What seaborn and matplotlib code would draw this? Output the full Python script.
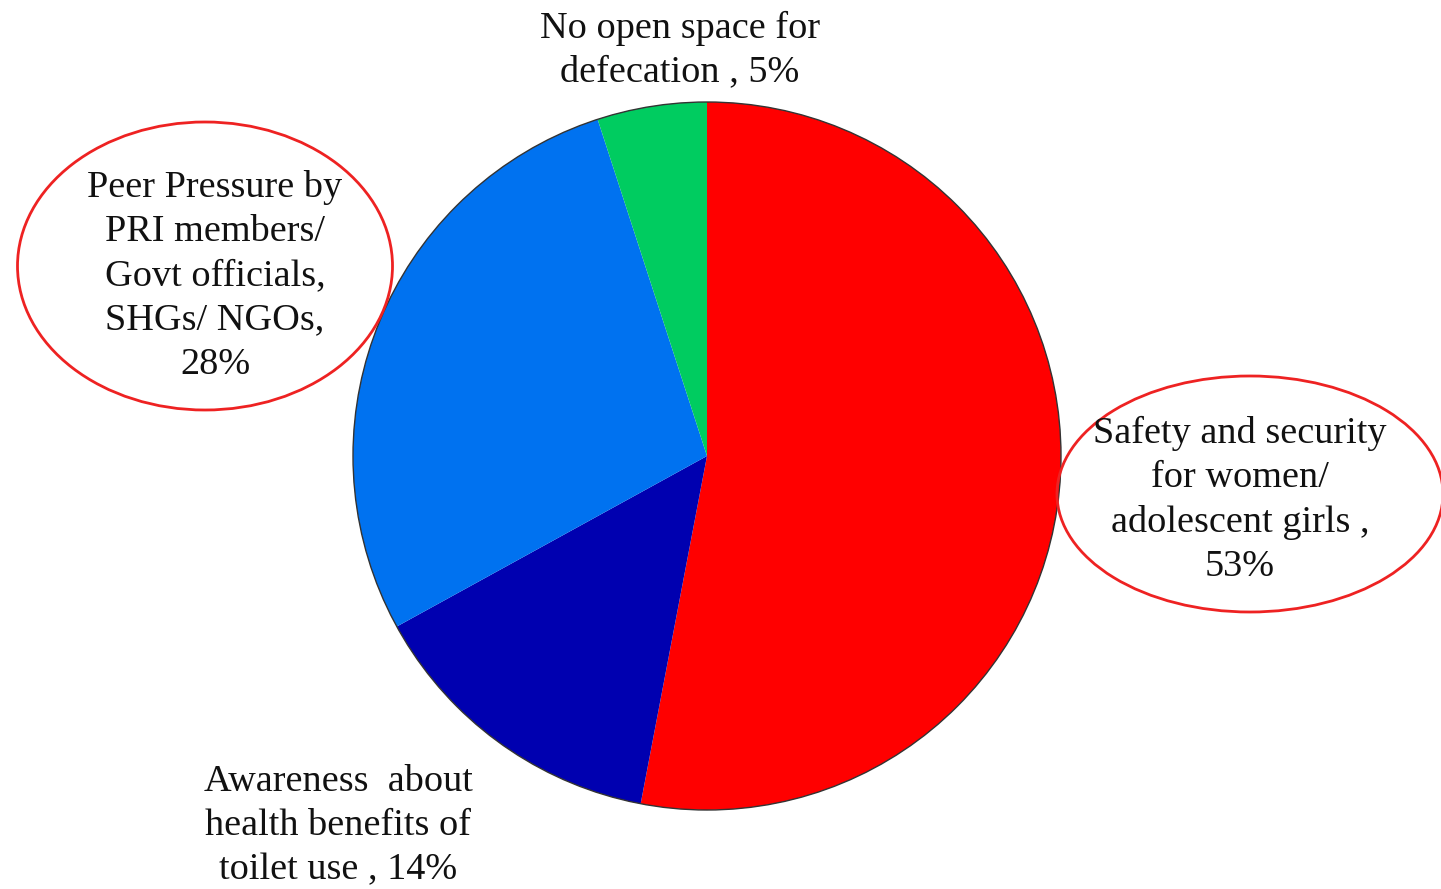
import matplotlib
matplotlib.use("Agg")
import matplotlib.pyplot as plt
from matplotlib.patches import Ellipse
import seaborn as sns

categories = [
    "Safety and security\nfor women/\nadolescent girls ,\n53%",
    "Awareness  about\nhealth benefits of\ntoilet use , 14%",
    "Peer Pressure by\nPRI members/\nGovt officials,\nSHGs/ NGOs,\n28%",
    "No open space for\ndefecation , 5%",
]
values = [53, 14, 28, 5]
colors = ["#FF0000", "#0000B0", "#0072F0", "#00CC60"]

sns.set_theme(style="white")
plt.rcParams["font.family"] = ["Liberation Serif", "DejaVu Serif"]

W, H = 1441, 889
fig = plt.figure(figsize=(W / 100, H / 100), dpi=100)
ax = fig.add_axes([0, 0, 1, 1])

def py(y):
    return H - y

ax.pie(values, colors=colors, startangle=90, counterclock=False,
       center=(707, py(456)), radius=354,
       wedgeprops=dict(linewidth=0))
# thin dark outline of the pie
ax.add_patch(plt.Circle((707, py(456)), 354, fill=False, edgecolor="#333333", linewidth=1.0))

ax.set_xlim(0, W)
ax.set_ylim(0, H)
ax.set_aspect("equal")
ax.axis("off")

fs = 27.5
ls = 1.36
tc = "#111111"
ax.text(680, py(50), categories[3], ha="center", va="center", fontsize=fs, linespacing=ls, color=tc)
ax.text(215, py(276), categories[2], ha="center", va="center", fontsize=fs, linespacing=ls, color=tc)
ax.text(1240, py(500), categories[0], ha="center", va="center", fontsize=fs, linespacing=ls, color=tc)
ax.text(338, py(826), categories[1], ha="center", va="center", fontsize=fs, linespacing=ls, color=tc)

ax.add_patch(Ellipse((205, py(266)), 375, 288, fill=False, edgecolor="#EE2222", linewidth=2))
ax.add_patch(Ellipse((1250, py(494)), 386, 236, fill=False, edgecolor="#EE2222", linewidth=2))

fig.savefig("out.png", dpi=100, facecolor="white")
